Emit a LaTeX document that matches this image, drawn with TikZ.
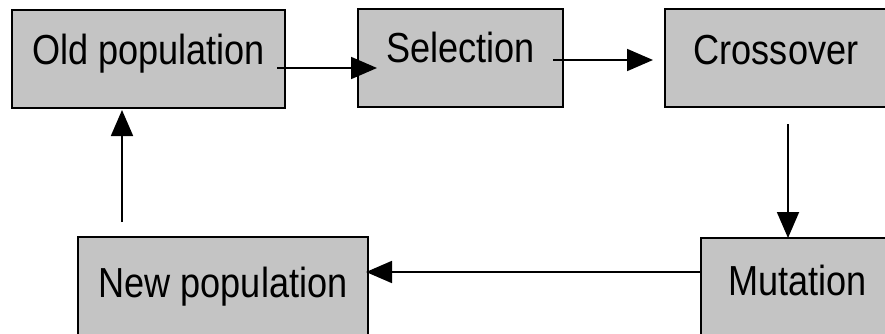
\documentclass[tikz,border=0pt]{standalone}
\usepackage{fontspec}
\setmainfont{Liberation Sans}[FakeStretch=0.86]
\usetikzlibrary{arrows.meta}
\definecolor{boxgray}{RGB}{196,196,196}
\tikzset{
  gbox/.style={draw=black, line width=2pt, fill=boxgray, inner sep=0pt, outer sep=0pt,
    anchor=north west, align=center, font=\fontsize{42}{44}\selectfont},
  arr/.style={line width=1.8pt, -{Triangle[length=26pt,width=22pt]}}
}
\begin{document}
\begin{tikzpicture}[x=1pt,y=-1pt]
\useasboundingbox (0,0) rectangle (885,334);
\clip (0,0) rectangle (885,334);
\node[gbox, minimum width=273pt, text height=55pt, text depth=43pt] (old) at (12,10) {Old population};
\node[gbox, minimum width=205pt, text height=54pt, text depth=44pt] (sel) at (358,9) {Selection};
\node[gbox, minimum width=222pt, text height=56pt, text depth=42pt] (cross) at (665,9) {Crossover};
\node[gbox, minimum width=290pt, text height=60pt, text depth=60pt] (new) at (78,237) {New population};
\node[gbox, minimum width=193pt, text height=57pt, text depth=60pt] (mut) at (701,238) {Mutation};
\draw[arr, shorten <=-8pt, shorten >=-19pt] (old.east |- 0,68) -- (sel.west |- 0,68);
\draw[arr, shorten <=-10pt, shorten >=12pt] (sel.east |- 0,60) -- (cross.west |- 0,60);
\draw[arr, shorten <=17pt] (cross.south -| 788,0) -- (mut.north -| 788,0);
\draw[arr, shorten >=-2pt] (mut.west |- 0,272) -- (new.east |- 0,272);
\draw[arr, shorten <=15pt, shorten >=2pt] (new.north -| 122,0) -- (old.south -| 122,0);
\end{tikzpicture}
\end{document}
